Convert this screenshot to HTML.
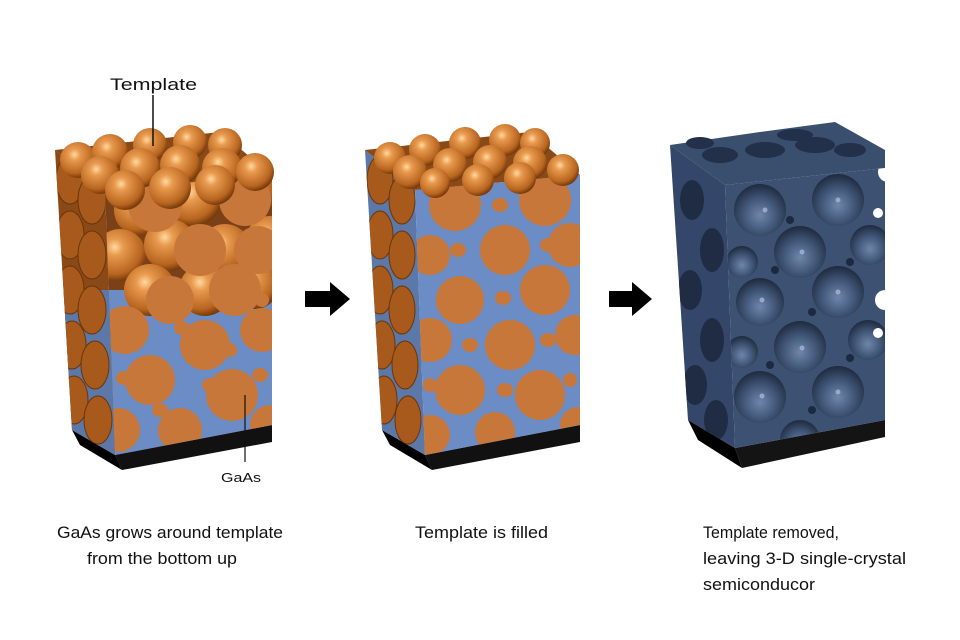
<!DOCTYPE html>
<html><head><meta charset="utf-8"><style>
html,body{margin:0;padding:0;background:#fff;}
svg{display:block;}
text{font-family:"Liberation Sans",sans-serif;fill:#111;}
</style></head><body>
<svg width="960" height="640" viewBox="0 0 960 640" xmlns="http://www.w3.org/2000/svg">
<defs>
<radialGradient id="sph" cx="0.4" cy="0.35" r="0.65">
<stop offset="0" stop-color="#ffd9a0"/><stop offset="0.25" stop-color="#e89a4e"/><stop offset="0.8" stop-color="#b8651f"/><stop offset="1" stop-color="#7a3c0c"/></radialGradient>
<radialGradient id="hole" cx="0.5" cy="0.6" r="0.6">
<stop offset="0" stop-color="#6f86aa"/><stop offset="0.5" stop-color="#445a7c"/><stop offset="1" stop-color="#1e2a3e"/></radialGradient>
<clipPath id="f1"><polygon points="105,190 272,175 272,425 115,455"/></clipPath>
<clipPath id="t1"><polygon points="55,150 220,132 272,175 105,190"/></clipPath>
<clipPath id="s1"><polygon points="55,150 105,190 115,455 72,430"/></clipPath>
<clipPath id="f2"><polygon points="415,190 580,175 580,425 425,455"/></clipPath>
<clipPath id="t2"><polygon points="365,150 530,132 580,175 415,190"/></clipPath>
<clipPath id="s2"><polygon points="365,150 415,190 425,455 382,430"/></clipPath>
<clipPath id="f3"><polygon points="725,185 885,168 885,420 735,448"/></clipPath>
<clipPath id="s3"><polygon points="670,145 725,185 735,448 688,420"/></clipPath>
</defs>

<!-- ===== Block 1 ===== -->
<polygon points="115,455 272,425 272,442 122,470" fill="#111"/>
<polygon points="72,430 115,455 122,470 80,445" fill="#000"/>
<g clip-path="url(#s1)">
<rect x="50" y="140" width="70" height="330" fill="#8a4a18"/>
<rect x="50" y="290" width="70" height="180" fill="#5c78a8"/>
<g fill="#a85a1c" stroke="#6a3508" stroke-width="1">
<ellipse cx="70" cy="180" rx="14" ry="24"/><ellipse cx="92" cy="200" rx="14" ry="24"/>
<ellipse cx="70" cy="235" rx="14" ry="24"/><ellipse cx="92" cy="255" rx="14" ry="24"/>
<ellipse cx="70" cy="290" rx="14" ry="24"/><ellipse cx="92" cy="310" rx="14" ry="24"/>
<ellipse cx="72" cy="345" rx="14" ry="24"/><ellipse cx="95" cy="365" rx="14" ry="24"/>
<ellipse cx="74" cy="400" rx="14" ry="24"/><ellipse cx="98" cy="420" rx="14" ry="24"/>
</g></g>
<g clip-path="url(#f1)">
<rect x="100" y="170" width="180" height="290" fill="#7a4018"/>
<rect x="100" y="290" width="180" height="170" fill="#6b8cc4"/>
<g fill="url(#sph)">
<circle cx="140" cy="210" r="26"/><circle cx="250" cy="195" r="26"/><circle cx="195" cy="200" r="26"/>
<circle cx="120" cy="255" r="26"/><circle cx="170" cy="245" r="26"/><circle cx="225" cy="250" r="26"/><circle cx="270" cy="240" r="24"/>
<circle cx="150" cy="290" r="26"/><circle cx="205" cy="290" r="26"/><circle cx="255" cy="285" r="24"/>
</g>
<g fill="#c8773a">
<circle cx="155" cy="205" r="27"/><circle cx="245" cy="200" r="26"/>
<circle cx="200" cy="250" r="26"/><circle cx="258" cy="250" r="24"/>
<circle cx="170" cy="300" r="24"/><circle cx="235" cy="290" r="26"/>
<circle cx="125" cy="330" r="24"/><circle cx="205" cy="345" r="25"/><circle cx="262" cy="330" r="22"/>
<circle cx="150" cy="380" r="25"/><circle cx="232" cy="395" r="26"/>
<circle cx="118" cy="430" r="22"/><circle cx="180" cy="430" r="22"/><circle cx="270" cy="425" r="20"/>
<ellipse cx="182" cy="328" rx="8" ry="7"/><ellipse cx="262" cy="300" rx="7" ry="7"/>
<ellipse cx="210" cy="385" rx="8" ry="7"/><ellipse cx="124" cy="378" rx="8" ry="7"/>
<ellipse cx="260" cy="375" rx="8" ry="7"/><ellipse cx="160" cy="410" rx="8" ry="7"/>
<ellipse cx="230" cy="350" rx="7" ry="7"/>
</g></g>
<g clip-path="url(#t1)"><rect x="50" y="125" width="230" height="70" fill="#8a4a18"/></g>
<g fill="url(#sph)">
<circle cx="78" cy="160" r="18"/><circle cx="110" cy="152" r="18"/><circle cx="150" cy="145" r="17"/><circle cx="190" cy="142" r="17"/><circle cx="225" cy="145" r="17"/>
<circle cx="100" cy="175" r="19"/><circle cx="140" cy="168" r="20"/><circle cx="180" cy="165" r="20"/><circle cx="222" cy="168" r="20"/><circle cx="255" cy="172" r="19"/>
<circle cx="125" cy="190" r="20"/><circle cx="170" cy="188" r="21"/><circle cx="215" cy="185" r="20"/>
</g>
<line x1="153" y1="95" x2="153" y2="146" stroke="#111" stroke-width="1.5"/>
<text x="110" y="90" font-size="17" textLength="87" lengthAdjust="spacingAndGlyphs">Template</text>
<line x1="245" y1="395" x2="245" y2="462" stroke="#111" stroke-width="1.2"/>
<text x="221" y="482" font-size="13" textLength="40" lengthAdjust="spacingAndGlyphs">GaAs</text>

<!-- ===== Block 2 ===== -->
<polygon points="425,455 580,425 580,442 432,470" fill="#111"/>
<polygon points="382,430 425,455 432,470 390,445" fill="#000"/>
<g clip-path="url(#s2)">
<rect x="360" y="140" width="70" height="330" fill="#5c78a8"/>
<g fill="#a85a1c" stroke="#6a3508" stroke-width="1">
<ellipse cx="380" cy="180" rx="13" ry="24"/><ellipse cx="402" cy="200" rx="13" ry="24"/>
<ellipse cx="380" cy="235" rx="13" ry="24"/><ellipse cx="402" cy="255" rx="13" ry="24"/>
<ellipse cx="380" cy="290" rx="13" ry="24"/><ellipse cx="402" cy="310" rx="13" ry="24"/>
<ellipse cx="382" cy="345" rx="13" ry="24"/><ellipse cx="405" cy="365" rx="13" ry="24"/>
<ellipse cx="384" cy="400" rx="13" ry="24"/><ellipse cx="408" cy="420" rx="13" ry="24"/>
</g></g>
<g clip-path="url(#f2)">
<rect x="410" y="170" width="180" height="290" fill="#6b8cc4"/>
<g fill="#c8773a">
<circle cx="455" cy="205" r="26"/><circle cx="545" cy="200" r="26"/>
<circle cx="505" cy="250" r="25"/><circle cx="570" cy="245" r="22"/><circle cx="430" cy="255" r="20"/>
<circle cx="460" cy="300" r="24"/><circle cx="545" cy="290" r="25"/>
<circle cx="430" cy="340" r="22"/><circle cx="510" cy="345" r="25"/><circle cx="575" cy="335" r="20"/>
<circle cx="460" cy="390" r="25"/><circle cx="540" cy="395" r="25"/>
<circle cx="430" cy="435" r="20"/><circle cx="495" cy="432" r="20"/><circle cx="578" cy="425" r="18"/>
<ellipse cx="500" cy="205" rx="8" ry="7"/><ellipse cx="458" cy="250" rx="8" ry="7"/><ellipse cx="548" cy="245" rx="8" ry="7"/>
<ellipse cx="503" cy="298" rx="8" ry="7"/><ellipse cx="470" cy="345" rx="8" ry="7"/><ellipse cx="548" cy="340" rx="8" ry="7"/>
<ellipse cx="505" cy="390" rx="8" ry="7"/><ellipse cx="430" cy="385" rx="7" ry="7"/><ellipse cx="570" cy="380" rx="7" ry="7"/>
</g></g>
<g clip-path="url(#t2)"><rect x="360" y="125" width="230" height="70" fill="#8a4a18"/></g>
<g fill="url(#sph)">
<circle cx="390" cy="158" r="16"/><circle cx="425" cy="150" r="16"/><circle cx="465" cy="143" r="16"/><circle cx="505" cy="140" r="16"/><circle cx="535" cy="143" r="15"/>
<circle cx="410" cy="172" r="17"/><circle cx="450" cy="165" r="17"/><circle cx="490" cy="162" r="17"/><circle cx="530" cy="163" r="17"/><circle cx="563" cy="170" r="16"/>
<circle cx="435" cy="183" r="15"/><circle cx="478" cy="180" r="16"/><circle cx="520" cy="178" r="16"/>
</g>

<!-- arrows -->
<polygon points="305,291 330,291 330,282 350,299 330,316 330,307 305,307" fill="#000"/>
<polygon points="609,291 632,291 632,282 652,299 632,316 632,307 609,307" fill="#000"/>

<!-- ===== Block 3 ===== -->
<polygon points="735,448 885,420 885,437 742,468" fill="#141414"/>
<polygon points="688,420 735,448 742,468 698,440" fill="#000"/>
<polygon points="670,145 760,132 835,122 885,150 885,168 725,185" fill="#3a4e6e"/>
<g fill="#22304a">
<ellipse cx="720" cy="155" rx="18" ry="8"/><ellipse cx="765" cy="150" rx="20" ry="8"/><ellipse cx="815" cy="145" rx="20" ry="8"/><ellipse cx="850" cy="150" rx="16" ry="7"/>
<ellipse cx="700" cy="143" rx="14" ry="6"/><ellipse cx="795" cy="135" rx="18" ry="6"/>
</g>
<g clip-path="url(#s3)">
<rect x="665" y="140" width="75" height="320" fill="#34476a"/>
<g fill="#1f2c44">
<ellipse cx="692" cy="200" rx="12" ry="20"/><ellipse cx="712" cy="250" rx="12" ry="22"/><ellipse cx="690" cy="290" rx="12" ry="20"/>
<ellipse cx="712" cy="340" rx="12" ry="22"/><ellipse cx="695" cy="385" rx="12" ry="20"/><ellipse cx="716" cy="420" rx="12" ry="20"/>
</g></g>
<g clip-path="url(#f3)">
<rect x="720" y="160" width="170" height="300" fill="#3d5173"/>
<g fill="url(#hole)">
<circle cx="760" cy="210" r="26"/><circle cx="838" cy="200" r="26"/>
<circle cx="800" cy="252" r="26"/><circle cx="870" cy="245" r="20"/><circle cx="742" cy="262" r="16"/>
<circle cx="760" cy="302" r="24"/><circle cx="838" cy="292" r="26"/>
<circle cx="800" cy="347" r="26"/><circle cx="868" cy="340" r="20"/><circle cx="742" cy="352" r="16"/>
<circle cx="760" cy="397" r="26"/><circle cx="838" cy="392" r="26"/>
<circle cx="800" cy="440" r="20"/>
</g>
<g fill="#142033" opacity="0.8">
<circle cx="790" cy="220" r="4"/><circle cx="775" cy="270" r="4"/><circle cx="850" cy="262" r="4"/><circle cx="812" cy="312" r="4"/>
<circle cx="770" cy="365" r="4"/><circle cx="850" cy="358" r="4"/><circle cx="812" cy="410" r="4"/>
</g>
<g fill="#9fb3d3" opacity="0.85">
<circle cx="765" cy="210" r="2.5"/><circle cx="838" cy="200" r="2.5"/><circle cx="802" cy="252" r="2.5"/><circle cx="762" cy="300" r="2.5"/>
<circle cx="838" cy="292" r="2.5"/><circle cx="802" cy="348" r="2.5"/><circle cx="762" cy="396" r="2.5"/><circle cx="838" cy="392" r="2.5"/>
</g>
<g fill="#fff">
<circle cx="888" cy="172" r="10"/><circle cx="885" cy="300" r="10"/><circle cx="878" cy="213" r="5"/><circle cx="878" cy="333" r="5"/>
</g></g>

<!-- captions -->
<text x="57" y="538" font-size="17" textLength="226" lengthAdjust="spacingAndGlyphs">GaAs grows around template</text>
<text x="87" y="564" font-size="17" textLength="150" lengthAdjust="spacingAndGlyphs">from the bottom up</text>
<text x="415" y="538" font-size="17" textLength="133" lengthAdjust="spacingAndGlyphs">Template is filled</text>
<text x="703" y="538" font-size="17" textLength="136" lengthAdjust="spacingAndGlyphs">Template removed,</text>
<text x="703" y="564" font-size="17" textLength="203" lengthAdjust="spacingAndGlyphs">leaving 3-D single-crystal</text>
<text x="703" y="590" font-size="17" textLength="112" lengthAdjust="spacingAndGlyphs">semiconducor</text>
</svg>
</body></html>
